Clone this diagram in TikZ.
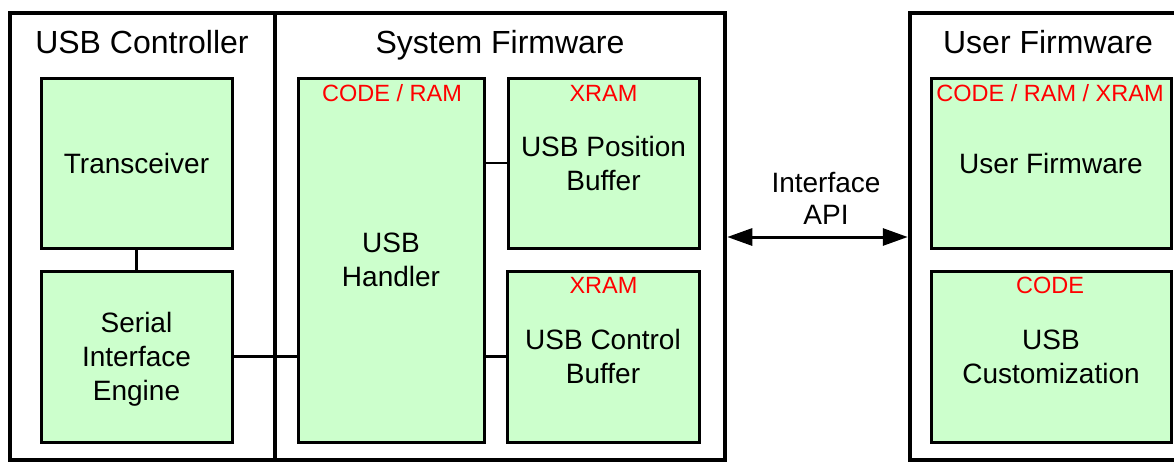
\documentclass[tikz,border=0pt]{standalone}
\usepackage{fontspec}
\setmainfont{Liberation Sans}
\usetikzlibrary{arrows.meta}
\definecolor{boxgreen}{HTML}{CCFFCC}
\definecolor{memred}{HTML}{FF0000}
\tikzset{
  group/.style={draw, line width=4.5pt, minimum width=#1, minimum height=447pt, inner sep=0pt},
  block/.style={draw, line width=3pt, fill=boxgreen, inner sep=0pt, align=center,
    font=\fontsize{28}{34}\selectfont, text depth=0pt},
  title/.style={inner sep=0pt, font=\fontsize{32}{38}\selectfont, text depth=0pt},
  memtag/.style={inner sep=0pt, text=memred, font=\fontsize{23.5}{28}\selectfont, text depth=0pt},
  link/.style={line width=2.2pt},
  api/.style={line width=3pt, {Triangle[length=25pt,width=17pt]}-{Triangle[length=25pt,width=17pt]}},
  label/.style={inner sep=0pt, align=center, font=\fontsize{28}{32}\selectfont, text depth=0pt}
}
\begin{document}
\begin{tikzpicture}[x=1pt,y=-1pt]
\useasboundingbox (0,0) rectangle (1174,463);

% outer groups
\node[group=265pt] (ctrlgrp) at (142.5,236.5) {};
\node[group=450pt] (sysgrp) at (500,236.5) {};
\node[group=275pt] (usergrp) at (1047.5,236.5) {};

\node[title] (ctrltitle) at (142,42) {USB Controller};
\node[title] (systitle) at (500,42) {System Firmware};
\node[title] (usertitle) at (1048,42) {User Firmware};

% USB controller blocks
\node[block, minimum width=191pt, minimum height=170pt] (xcvr) at (136.5,163) {Transceiver};
\node[block, minimum width=191pt, minimum height=171pt] (sie) at (136.5,356.5) {Serial\\Interface\\Engine};

% system firmware blocks
\node[block, minimum width=186pt, minimum height=364pt] (handler) at (391,260) {USB\\Handler};
\node[block, minimum width=191pt, minimum height=170pt] (posbuf) at (603.5,163) {USB Position\\Buffer};
\node[block, minimum width=192pt, minimum height=171pt] (ctlbuf) at (603,356.5) {USB Control\\Buffer};

% user firmware blocks
\node[block, minimum width=240pt, minimum height=170pt] (userfw) at (1051,163) {User Firmware};
\node[block, minimum width=240pt, minimum height=171pt] (custom) at (1051,356.5) {USB\\Customization};

% memory tags
\node[memtag] (tagh) at (392,93) {CODE / RAM};
\node[memtag] (tagp) at (603.5,93) {XRAM};
\node[memtag] (tagc) at (603.5,285) {XRAM};
\node[memtag] (tagu) at (1050,93) {CODE / RAM / XRAM};
\node[memtag] (tagx) at (1050,285) {CODE};

% internal links
\draw[link] (xcvr.south) -- (sie.north);
\draw[link] (sie.east) -- (sie.east -| handler.west);
\draw[link] (posbuf.west -| handler.east) -- (posbuf.west);
\draw[link] (ctlbuf.west -| handler.east) -- (ctlbuf.west);

% interface API
\coordinate (apiy) at (0,237);
\draw[api] (sysgrp.east |- apiy) -- (usergrp.west |- apiy);
\node[label] (apitext) at (826,198.5) {Interface\\API};
\end{tikzpicture}
\end{document}
